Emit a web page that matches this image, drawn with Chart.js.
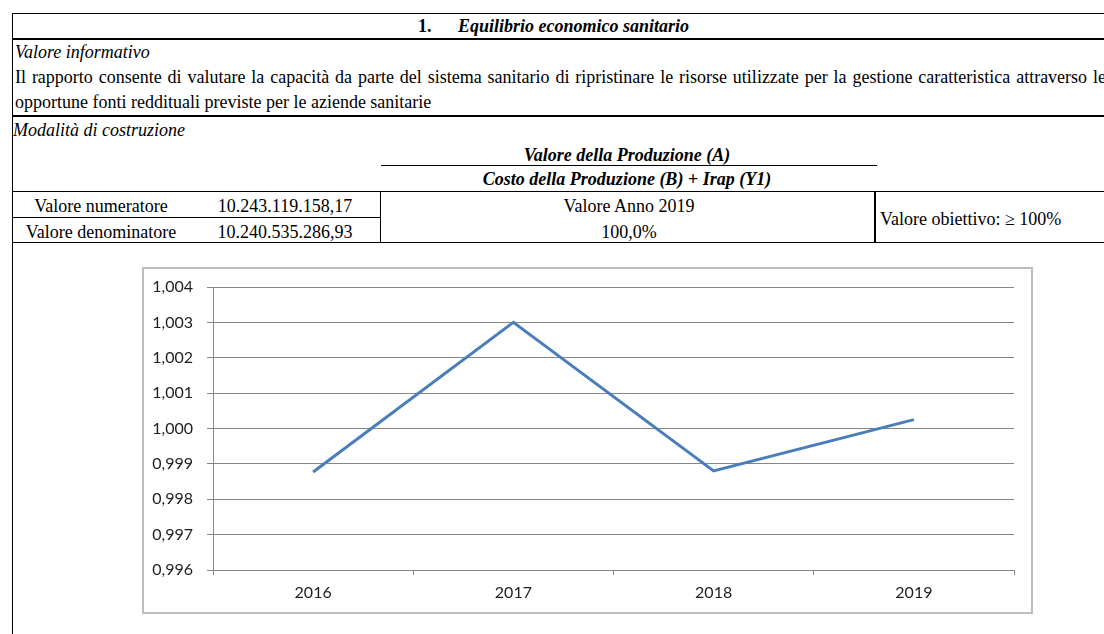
<!DOCTYPE html>
<html lang="it">
<head>
<meta charset="utf-8">
<title>Equilibrio economico sanitario</title>
<script src="https://cdn.jsdelivr.net/npm/chart.js@4.4.1/dist/chart.umd.min.js"></script>
<style>
  html, body { margin: 0; padding: 0; background: #fff; }
  body { width: 1104px; height: 634px; overflow: hidden; position: relative;
         font-family: "Liberation Serif", "Times New Roman", serif; font-size: 18px; color: #000; }
  .t { position: absolute; line-height: 20px; white-space: nowrap; }
  .c { text-align: center; }
  .hl { position: absolute; background: #000; height: 1px; }
  .vl { position: absolute; background: #000; width: 1px; }
  #chartBox { position: absolute; left: 142px; top: 267px; width: 891px; height: 347px;
              box-sizing: border-box; border: 2px solid #bdbdbd; background: #fff; }
  #chartBox canvas { display: block; }
</style>
</head>
<body>

<!-- table lines -->
<div class="hl" style="left:12px; top:13px; width:1092px;"></div>
<div class="hl" style="left:12px; top:38px; width:1092px; height:2px;"></div>
<div class="hl" style="left:12px; top:115px; width:1092px; height:2px;"></div>
<div class="hl" style="left:381px; top:165px; width:496px;"></div>
<div class="hl" style="left:12px; top:191px; width:1092px;"></div>
<div class="hl" style="left:12px; top:217px; width:368px;"></div>
<div class="hl" style="left:12px; top:242px; width:1092px;"></div>
<div class="vl" style="left:12px; top:13px; height:621px;"></div>
<div class="vl" style="left:380px; top:191px; height:52px;"></div>
<div class="vl" style="left:874px; top:191px; height:52px; width:2px;"></div>

<!-- table text -->
<div class="t" style="left:418px; top:16px; font-weight:bold;">1.</div>
<div class="t" style="left:458px; top:16px; font-weight:bold; font-style:italic;">Equilibrio economico sanitario</div>
<div class="t" style="left:15px; top:42px; font-style:italic;">Valore informativo</div>
<div class="t" id="justLine" style="left:15px; top:67px;">Il rapporto consente di valutare la capacità da parte del sistema sanitario di ripristinare le risorse utilizzate per la gestione caratteristica attraverso le</div>
<div class="t" style="left:15px; top:92px;">opportune fonti reddituali previste per le aziende sanitarie</div>
<div class="t" style="left:13px; top:120px; font-style:italic;">Modalità di costruzione</div>
<div class="t c" style="left:380px; top:145px; width:494px; font-weight:bold; font-style:italic;">Valore della Produzione (A)</div>
<div class="t c" style="left:380px; top:169px; width:494px; font-weight:bold; font-style:italic;">Costo della Produzione (B) + Irap (Y1)</div>
<div class="t c" style="left:12px; top:196px; width:178px;">Valore numeratore</div>
<div class="t c" style="left:190px; top:196px; width:190px;">10.243.119.158,17</div>
<div class="t c" style="left:12px; top:222px; width:178px;">Valore denominatore</div>
<div class="t c" style="left:190px; top:222px; width:190px;">10.240.535.286,93</div>
<div class="t c" style="left:381px; top:196px; width:496px;">Valore Anno 2019</div>
<div class="t c" style="left:381px; top:222px; width:496px;">100,0%</div>
<div class="t" style="left:880px; top:209px;">Valore obiettivo: ≥ 100%</div>

<div id="chartBox"><canvas id="ratioChart" width="887" height="343"></canvas></div>

<script>
// stretch the first paragraph line like the justified original
const justLine = document.getElementById("justLine");
const spaces = justLine.textContent.split(" ").length - 1;
const natural = justLine.getBoundingClientRect().width;
justLine.style.wordSpacing = ((1091 - natural) / spaces) + "px";

// --------- Data ----------
const years = ["2016", "2017", "2018", "2019"];
const ratio = [0.99877, 1.003, 0.9988, 1.00025];
const yMin = 0.996;
const yMax = 1.004;
const yStep = 0.001;

const gridGray = "#868686";
const tickFont = { family: "Lato, 'Open Sans', sans-serif", size: 16 };

new Chart(document.getElementById("ratioChart"), {
  type: "line",
  data: {
    labels: years,
    datasets: [
      {
        label: "Rapporto",
        data: ratio,
        borderColor: "#4a7ebb",
        borderWidth: 3,
        pointRadius: 0,
        tension: 0,
        fill: false,
      },
    ],
  },
  options: {
    responsive: false,
    animation: false,
    layout: { padding: { left: 0, right: 17, top: 18, bottom: 0 } },
    plugins: { legend: { display: false }, tooltip: { enabled: false } },
    scales: {
      x: {
        offset: true,
        grid: { offset: true, drawOnChartArea: false, drawTicks: true, tickLength: 5, color: gridGray },
        border: { display: true, color: gridGray },
        ticks: { color: "#1e1e1e", font: tickFont, padding: 8 },
        afterFit: (axis) => { axis.height = 42; },
      },
      y: {
        min: yMin,
        max: yMax,
        grid: { color: gridGray, tickLength: 6 },
        border: { display: true, color: gridGray },
        ticks: {
          stepSize: yStep,
          color: "#1e1e1e",
          font: tickFont,
          padding: 14,
          callback: (v) => v.toFixed(3).replace(".", ","),
        },
        afterFit: (axis) => {
          axis.width = 69;
          axis.paddingTop = 0; // keep the plot top fixed by layout padding
          axis.paddingBottom = 0;
        },
      },
    },
  },
});
</script>
</body>
</html>
